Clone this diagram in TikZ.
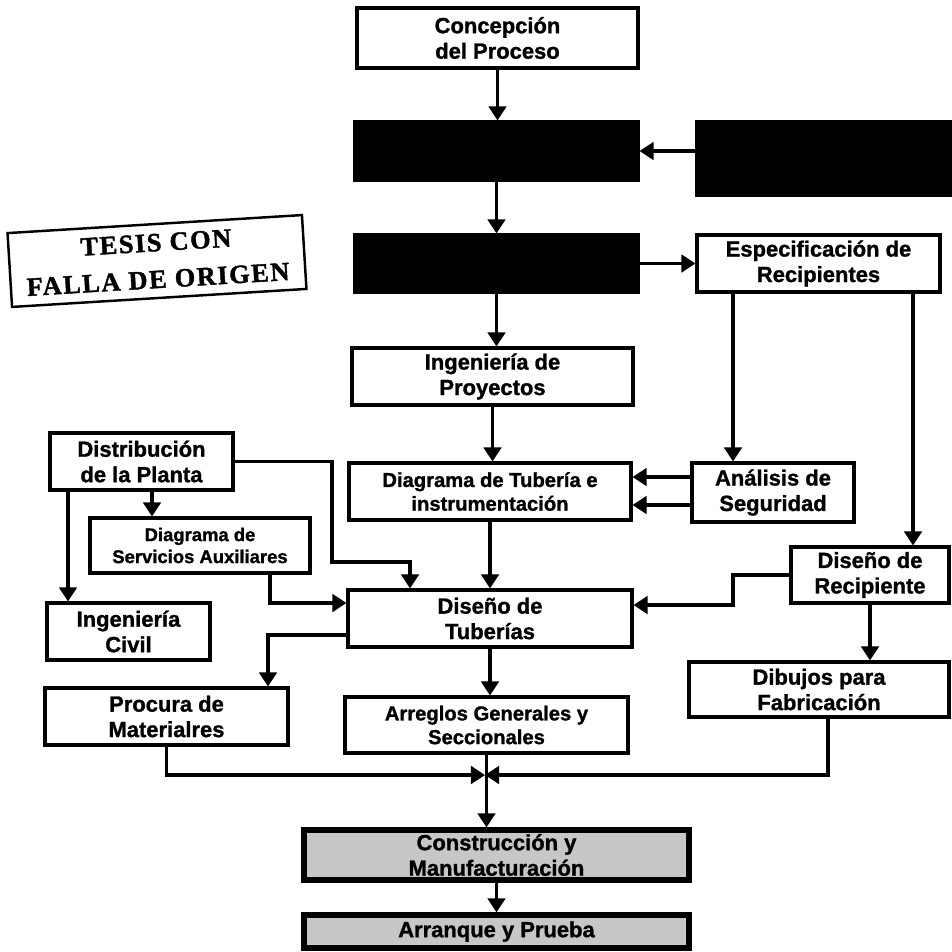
\documentclass[tikz,border=0pt]{standalone}
\usepackage{fontspec}
\setmainfont{Liberation Sans}[BoldFeatures={FakeBold=1.2}]
\newfontfamily\stampfont[LetterSpace=6,BoldFeatures={FakeBold=1.5}]{Liberation Serif}
\usetikzlibrary{arrows.meta}

\tikzset{
  box/.style={draw,line width=1.8pt,fill=white,align=center,inner sep=0pt,
    font=\bfseries\fontsize{12.5}{14.5}\selectfont},
  blk/.style={draw,line width=1.8pt,fill=black,inner sep=0pt},
  heavy/.style={draw,line width=3pt,fill=black!22,align=center,inner sep=0pt,
    font=\bfseries\fontsize{12.5}{14.5}\selectfont},
  stamp/.style={draw,line width=1.4pt,align=center,inner sep=0pt,
    font=\stampfont\bfseries\fontsize{15}{21}\selectfont},
  conn/.style={line width=1.8pt,->}
}

\begin{document}
\begin{tikzpicture}[line join=miter,>={Triangle[width=10pt,length=8pt]},x=0.02cm,y=-0.02cm]
\useasboundingbox (0,0) rectangle (952,951);
% top column
\node[box,minimum width=5.62cm,minimum height=1.20cm] (concep) at (497.5,38) {Concepción\\del Proceso};
\node[blk,minimum width=5.66cm,minimum height=1.16cm] (blkA) at (496.5,151) {};
\node[blk,minimum width=5.10cm,minimum height=1.46cm] (blkB) at (824.5,158.5) {};
\node[blk,minimum width=5.66cm,minimum height=1.14cm] (blkC) at (496.5,263.5) {};
\node[box,minimum width=4.86cm,minimum height=1.14cm] (espec) at (818.5,263.5) {Especificación de\\Recipientes};
\node[stamp,rotate=3.5,minimum width=5.9cm,minimum height=1.48cm] (tesis) at (157,261) {TESIS CON\\FALLA DE ORIGEN};
% middle
\node[box,minimum width=5.62cm,minimum height=1.14cm] (ingproy) at (492.5,376.5) {Ingeniería de\\Proyectos};
\node[box,minimum width=5.64cm,minimum height=1.14cm,font=\bfseries\fontsize{11.5}{13.5}\selectfont] (diagtub) at (490,491.5) {Diagrama de Tubería e\\instrumentación};
\node[box,minimum width=3.24cm,minimum height=1.18cm] (analisis) at (773,492.5) {Análisis de\\Seguridad};
\node[box,minimum width=3.66cm,minimum height=1.14cm] (distrib) at (141.5,461.5) {Distribución\\de la Planta};
\node[box,minimum width=4.40cm,minimum height=1.10cm,font=\bfseries\fontsize{10.5}{12.5}\selectfont] (servaux) at (200,545.5) {Diagrama de\\Servicios Auxiliares};
\node[box,minimum width=3.26cm,minimum height=1.14cm] (ingcivil) at (128.5,631.5) {Ingeniería\\Civil};
\node[box,minimum width=5.68cm,minimum height=1.14cm] (disetub) at (490,618.5) {Diseño de\\Tuberías};
\node[box,minimum width=3.16cm,minimum height=1.12cm] (diserec) at (870,575) {Diseño de\\Recipiente};
% bottom
\node[box,minimum width=4.86cm,minimum height=1.14cm] (procura) at (166.5,716.5) {Procura de\\Materialres};
\node[box,minimum width=5.66cm,minimum height=1.12cm,font=\bfseries\fontsize{11.5}{13.5}\selectfont] (arreglos) at (486.5,725) {Arreglos Generales y\\Seccionales};
\node[box,minimum width=5.20cm,minimum height=1.10cm] (dibujos) at (819,689.5) {Dibujos para\\Fabricación};
\node[heavy,minimum width=7.70cm,minimum height=1.00cm] (constr) at (496.5,855) {Construcción y\\Manufacturación};
\node[heavy,minimum width=7.70cm,minimum height=0.66cm] (arranque) at (496.5,931.5) {Arranque y Prueba};
% bends
\coordinate (jA) at (332,562);
\coordinate (jI) at (410,562);
\coordinate (jB) at (270,603);
\coordinate (jC) at (733,605);
\coordinate (jD) at (268,635);
\coordinate (jE) at (485,775);
\coordinate (jF) at (913,400);
\coordinate (jG) at (660,477);
\coordinate (jH) at (660,505);
\coordinate (jJ) at (152,500);
\coordinate (jK) at (68,500);
\coordinate (jL) at (828,740);
% connectors
\draw[conn] (concep.south) -- (concep.south |- blkA.north);
\draw[conn] (blkB.west |- blkA.east) -- (blkA.east);
\draw[conn] (blkA.south) -- (blkA.south |- blkC.north);
\draw[conn] (blkC.east) -- (espec.west);
\draw[conn] (blkC.south) -- (blkC.south |- ingproy.north);
\draw[conn] (ingproy.south) -- (ingproy.south |- diagtub.north);
\draw[conn] (espec.south -| jC) -- (analisis.north -| jC);
\draw[conn] (espec.south -| jF) -- (diserec.north -| jF);
\draw[conn] (analisis.west |- jG) -- (diagtub.east |- jG);
\draw[conn] (analisis.west |- jH) -- (diagtub.east |- jH);
\draw[conn] (distrib.east) -| (jA) -| (disetub.north -| jI);
\draw[conn] (distrib.south -| jJ) -- (servaux.north -| jJ);
\draw[conn] (distrib.south -| jK) -- (ingcivil.north -| jK);
\draw[conn] (servaux.south -| jB) |- (disetub.west |- jB);
\draw[conn] (diagtub.south) -- (diagtub.south |- disetub.north);
\draw[conn] (diserec.west) -| (jC) -- (disetub.east |- jC);
\draw[conn] (disetub.west |- jD) -| (procura.north -| jD);
\draw[conn] (disetub.south) -- (disetub.south |- arreglos.north);
\draw[conn] (diserec.south) -- (diserec.south |- dibujos.north);
\draw[conn] (procura.south) |- (jE);
\draw[conn] (dibujos.south -| jL) |- (jE);
\draw[conn] (arreglos.south) -- (arreglos.south |- constr.north);
\draw[conn] (constr.south) -- (arranque.north);
\end{tikzpicture}
\end{document}
